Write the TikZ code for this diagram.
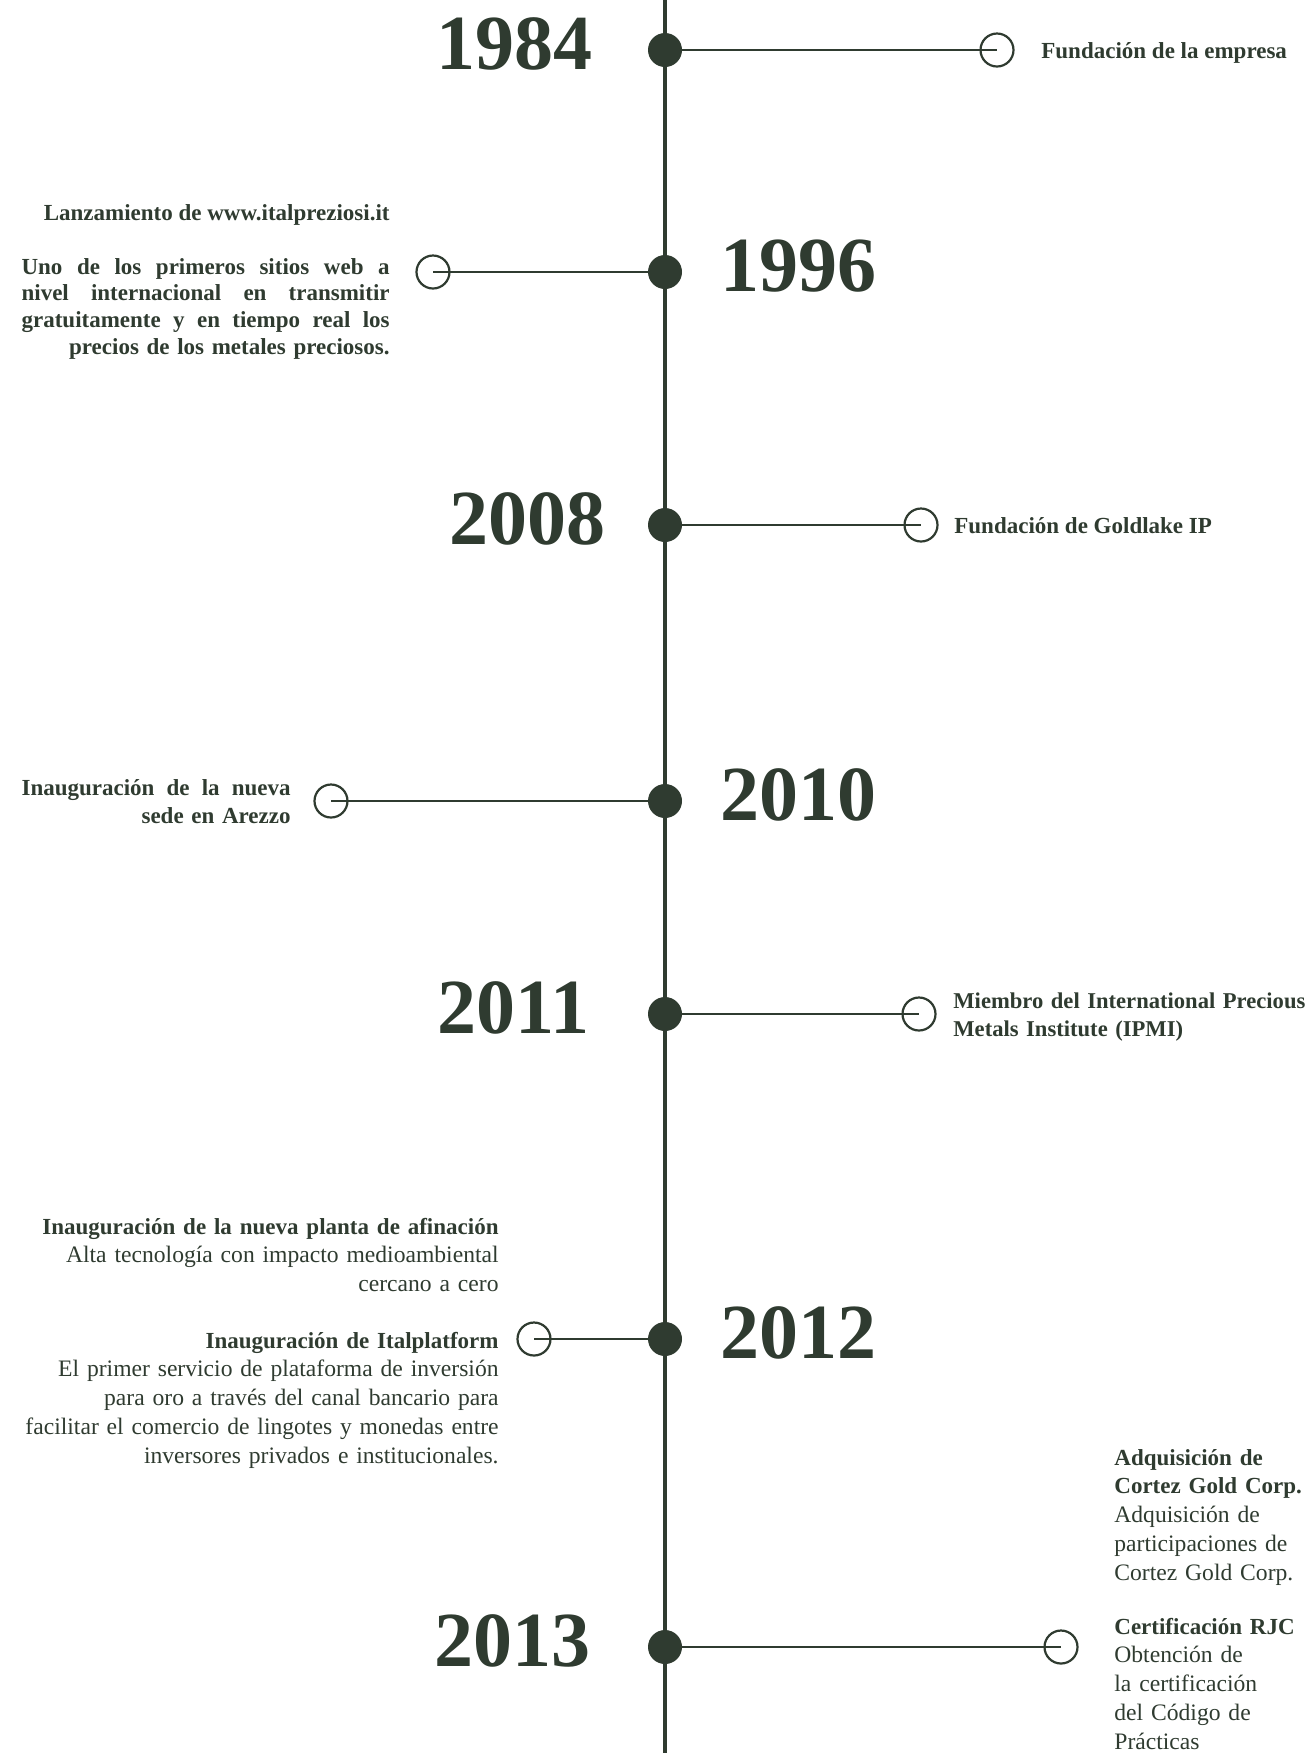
\documentclass[tikz,border=0pt]{standalone}
\usepackage{fontspec}
\setmainfont{Liberation Serif}
\usepackage{tikz}
\usepackage{xcolor}

\definecolor{tlgreen}{RGB}{47,59,48}
\newcommand{\tlhead}[1]{{\fontsize{11.5}{14.4}\selectfont\bfseries #1}}
\newcommand{\tlfull}[1]{\makebox[\linewidth]{#1}}

\tikzset{
  milestone/.style={circle,fill=tlgreen,inner sep=0pt,minimum size=17pt},
  endmark/.style={circle,draw=tlgreen,line width=1.1pt,inner sep=0pt,minimum size=16.5pt},
  spine/.style={draw=tlgreen,line width=2.2pt},
  link/.style={draw=tlgreen,line width=1.1pt},
  year/.style={inner sep=0pt,text=tlgreen,font=\fontsize{39}{39}\selectfont\bfseries},
  headline/.style={inner sep=0pt,text=tlgreen,font=\fontsize{11.5}{14.4}\selectfont\bfseries},
  bodytext/.style={inner sep=0pt,text=tlgreen,font=\fontsize{11.8}{14.4}\selectfont},
}

\begin{document}
\begin{tikzpicture}[x=0.5pt,y=-0.5pt]
    \useasboundingbox (0,0) rectangle (1310,1753);
    \coordinate (top) at (665,0);
    \coordinate (bottom) at (665,1753);
    \draw[spine] (top) -- (bottom);

    % 1984
    \node[milestone] (d84) at (665,50) {};
    \node[endmark] (c84) at (997,50) {};
    \draw[link] (d84) -- (c84.center);
    \node[year,anchor=base east] (y84) at (593,69) {1984};
    \node[headline,anchor=base west] (t84) at (1041,58) {Fundación de la empresa};

    % 1996
    \node[milestone] (d96) at (665,272) {};
    \node[endmark] (c96) at (433,272) {};
    \draw[link] (d96) -- (c96.center);
    \node[year,anchor=base west] (y96) at (720,291) {1996};
    \node[headline,anchor=base east] (h96) at (390,220) {Lanzamiento de www.italpreziosi.it};
    \node[headline,anchor=base east,text width=184pt,align=right,font=\fontsize{11.5}{13.4}\selectfont\bfseries] (t96) at (390,274)
        {\tlfull{Uno\hfill de\hfill los\hfill primeros\hfill sitios\hfill web\hfill a}\\
         \tlfull{nivel\hfill internacional\hfill en\hfill transmitir}\\
         \tlfull{gratuitamente\hfill y\hfill en\hfill tiempo\hfill real\hfill los}\\
         precios de los metales preciosos.};

    % 2008
    \node[milestone] (d08) at (665,525) {};
    \node[endmark] (c08) at (921,525) {};
    \draw[link] (d08) -- (c08.center);
    \node[year,anchor=base east] (y08) at (606,544) {2008};
    \node[headline,anchor=base west] (t08) at (954,533) {Fundación de Goldlake IP};

    % 2010
    \node[milestone] (d10) at (665,801) {};
    \node[endmark] (c10) at (331,801) {};
    \draw[link] (d10) -- (c10.center);
    \node[year,anchor=base west] (y10) at (720,820) {2010};
    \node[headline,anchor=base east,text width=134.5pt,align=right] (t10) at (291,795)
        {\tlfull{Inauguración\hfill de\hfill la\hfill nueva}\\ sede en Arezzo};

    % 2011
    \node[milestone] (d11) at (665,1014) {};
    \node[endmark] (c11) at (919,1014) {};
    \draw[link] (d11) -- (c11.center);
    \node[year,anchor=base east] (y11) at (590,1033) {2011};
    \node[headline,anchor=base west,text width=200pt,align=left,font=\fontsize{11.3}{14.4}\selectfont\bfseries] (t11) at (953,1008)
        {Miembro del International Precious\\ Metals Institute (IPMI)};

    % 2012
    \node[milestone] (d12) at (665,1339) {};
    \node[endmark] (c12) at (534,1339) {};
    \draw[link] (d12) -- (c12.center);
    \node[year,anchor=base west] (y12) at (720,1358) {2012};
    \node[bodytext,anchor=base east,text width=250pt,align=right] (t12a) at (499,1234)
        {\tlhead{Inauguración de la nueva planta de afinación}\\
         Alta tecnología con impacto medioambiental\\
         cercano a cero};
    \node[bodytext,anchor=base east,text width=250pt,align=right] (t12b) at (499,1348)
        {\tlhead{Inauguración de Italplatform}\\
         El primer servicio de plataforma de inversión\\
         para oro a través del canal bancario para\\
         facilitar el comercio de lingotes y monedas entre\\
         inversores privados e institucionales.};

    % 2013
    \node[milestone] (d13) at (665,1647) {};
    \node[endmark] (c13) at (1061,1647) {};
    \draw[link] (d13) -- (c13.center);
    \node[year,anchor=base east] (y13) at (591,1666) {2013};
    \node[bodytext,anchor=base west,text width=100pt,align=left] (t13a) at (1114,1465)
        {\tlhead{Adquisición de\\ Cortez Gold Corp.}\\
         Adquisición de\\
         participaciones de\\
         Cortez Gold Corp.};
    \node[bodytext,anchor=base west,text width=100pt,align=left] (t13b) at (1114,1634)
        {\tlhead{Certificación RJC}\\
         Obtención de\\
         la certificación\\
         del Código de\\
         Prácticas};
\end{tikzpicture}
\end{document}
